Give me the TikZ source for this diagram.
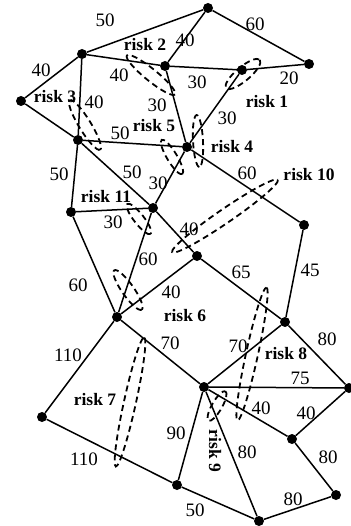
\documentclass[tikz,border=0pt]{standalone}
\usepackage{fontspec}
\setmainfont{Liberation Serif}
\begin{document}
\begin{tikzpicture}[x=1pt,y=-1pt,
  dot/.style={circle,fill=black,inner sep=0pt,minimum size=10pt},
  edge/.style={line width=1.5pt},
  wt/.style={font=\fontsize{19}{21}\selectfont,inner sep=0pt},
  rl/.style={font=\fontsize{17.5}{19}\selectfont\bfseries,inner sep=0pt},
  riskloop/.style={line width=1.8pt,dash pattern=on 6pt off 4pt}]
\useasboundingbox (0,0) rectangle (350,526);
% nodes
\node[dot] (A) at (208,8) {};
\node[dot] (B) at (82,54) {};
\node[dot] (C) at (165,66) {};
\node[dot] (D) at (242,70) {};
\node[dot] (E) at (309,64) {};
\node[dot] (F) at (21,101) {};
\node[dot] (G) at (78,140) {};
\node[dot] (H) at (187,147) {};
\node[dot] (I) at (71,212) {};
\node[dot] (J) at (153,208) {};
\node[dot] (K) at (197,256) {};
\node[dot] (L) at (304,225) {};
\node[dot] (M) at (117,317) {};
\node[dot] (N) at (285,322) {};
\node[dot] (O) at (204,387) {};
\node[dot] (P) at (349,388) {};
\node[dot] (Q) at (42,417) {};
\node[dot] (R) at (292,439) {};
\node[dot] (S) at (177,485) {};
\node[dot] (T) at (336,495) {};
\node[dot] (U) at (259,521) {};
% edges
\draw[edge] (A)--(B) (A)--(C) (A)--(E) (B)--(F) (B)--(C) (B)--(G)
  (C)--(D) (D)--(E) (C)--(H) (D)--(H) (F)--(G) (G)--(H) (G)--(I)
  (G)--(J) (H)--(J) (H)--(L) (I)--(J) (I)--(M) (J)--(M) (J)--(K)
  (K)--(M) (K)--(N) (L)--(N) (M)--(O) (M)--(Q) (N)--(O) (N)--(P)
  (O)--(P) (O)--(R) (P)--(R) (O)--(S) (O)--(U) (R)--(T) (Q)--(S)
  (S)--(U) (U)--(T);
% risk loops
\draw[riskloop,rotate around={-39:(151,75)}] (151,75) ellipse [x radius=31,y radius=6];
\draw[riskloop,rotate around={40:(243,74)}] (243,74) ellipse [x radius=22,y radius=7];
\draw[riskloop,rotate around={-58.5:(85,125)}] (85,125) ellipse [x radius=29,y radius=6];
\draw[riskloop,rotate around={-59:(172,157)}] (172,157) ellipse [x radius=20,y radius=5];
\draw[riskloop,rotate around={-87:(198,141)}] (198,141) ellipse [x radius=26,y radius=5];
\draw[riskloop,rotate around={34.4:(225,216)}] (225,216) ellipse [x radius=64,y radius=7];
\draw[riskloop,rotate around={-52:(139,219)}] (139,219) ellipse [x radius=19,y radius=5];
\draw[riskloop,rotate around={-55:(128,290)}] (128,290) ellipse [x radius=24,y radius=6];
\draw[riskloop,rotate around={77.6:(130,402)}] (130,402) ellipse [x radius=66,y radius=6];
\draw[riskloop,rotate around={77.7:(252,354)}] (252,354) ellipse [x radius=68,y radius=6];
\draw[riskloop,rotate around={60:(217,406)}] (217,406) ellipse [x radius=17,y radius=5];
% weights
\node[wt] (w1) at (105,20) {50};
\node[wt] (w2) at (185,40) {40};
\node[wt] (w3) at (255,24) {60};
\node[wt] (w4) at (41,70) {40};
\node[wt] (w5) at (119,75) {40};
\node[wt] (w6) at (197,82) {30};
\node[wt] (w7) at (289,78) {20};
\node[wt] (w8) at (227,118) {30};
\node[wt] (w9) at (94,102) {40};
\node[wt] (w10) at (157,105) {30};
\node[wt] (w11) at (120,133) {50};
\node[wt] (w12) at (59,174) {50};
\node[wt] (w13) at (132,172) {50};
\node[wt] (w14) at (247,173) {60};
\node[wt] (w15) at (158,183) {30};
\node[wt] (w16) at (113,222) {30};
\node[wt] (w17) at (78,285) {60};
\node[wt] (w18) at (148,259) {60};
\node[wt] (w19) at (189,229) {40};
\node[wt] (w20) at (310,270) {45};
\node[wt] (w21) at (241,272) {65};
\node[wt] (w22) at (171,292) {40};
\node[wt] (w23) at (170,343) {70};
\node[wt] (w24) at (327,339) {80};
\node[wt] (w25) at (68,355) {110};
\node[wt] (w26) at (238,346) {70};
\node[wt] (w27) at (300,378) {75};
\node[wt] (w28) at (261,408) {40};
\node[wt] (w29) at (306,413) {40};
\node[wt] (w30) at (176,433) {90};
\node[wt] (w31) at (247,452) {80};
\node[wt] (w32) at (328,457) {80};
\node[wt] (w33) at (84,459) {110};
\node[wt] (w34) at (293,499) {80};
\node[wt] (w35) at (195,510) {50};
% risk labels
\node[rl] (r1) at (267,102) {risk 1};
\node[rl] (r2) at (145,45) {risk 2};
\node[rl] (r3) at (55,97) {risk 3};
\node[rl] (r4) at (232,147) {risk 4};
\node[rl] (r5) at (154,126) {risk 5};
\node[rl] (r6) at (185,316) {risk 6};
\node[rl] (r7) at (95,400) {risk 7};
\node[rl] (r8) at (286,354) {risk 8};
\node[rl,rotate=-90] (r9) at (215,451) {risk 9};
\node[rl] (r10) at (309,175) {risk 10};
\node[rl] (r11) at (106,197) {risk 11};
\end{tikzpicture}
\end{document}
